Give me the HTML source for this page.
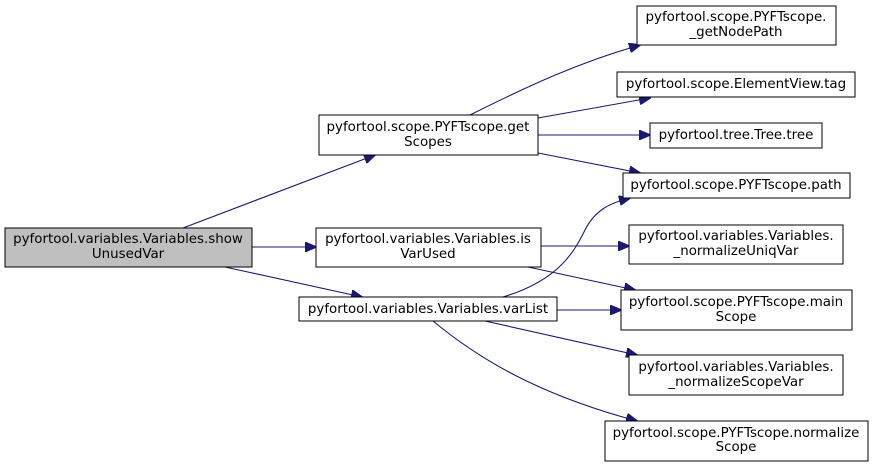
<!DOCTYPE html>
<html><head><meta charset="utf-8"><style>
html,body{margin:0;padding:0;background:#fff;}
svg{display:block;}
text{font-family:"DejaVu Sans","Liberation Sans",sans-serif;font-size:13.4px;fill:#000;text-anchor:middle;}
rect{fill:#fff;stroke:#000;stroke-width:1;}
path.e{fill:none;stroke:#191970;stroke-width:1.1;}
</style></head><body>
<svg width="873" height="467" viewBox="0 0 873 467" xmlns="http://www.w3.org/2000/svg">
<defs><marker id="a" markerWidth="12" markerHeight="10" refX="11" refY="5" orient="auto" markerUnits="userSpaceOnUse"><path d="M0,0 L12,5 L0,10 z" fill="#191970" stroke="#191970"/></marker></defs>
<path class="e" d="M183,228 L375,155" marker-end="url(#a)"/>
<path class="e" d="M252,247 L316,247" marker-end="url(#a)"/>
<path class="e" d="M225,267 L362,297" marker-end="url(#a)"/>
<path class="e" d="M470,115 C530,85 580,62 640,45" marker-end="url(#a)"/>
<path class="e" d="M538,118 L650,98" marker-end="url(#a)"/>
<path class="e" d="M538,135 L650,135" marker-end="url(#a)"/>
<path class="e" d="M538,153 L640,173" marker-end="url(#a)"/>
<path class="e" d="M541,246 L629,246" marker-end="url(#a)"/>
<path class="e" d="M528,267 L635,290" marker-end="url(#a)"/>
<path class="e" d="M503,297 C560,280 575,250 585,230 C595,210 610,203 630,198" marker-end="url(#a)"/>
<path class="e" d="M557,310 L621,310" marker-end="url(#a)"/>
<path class="e" d="M485,321 L637,355" marker-end="url(#a)"/>
<path class="e" d="M433,321 C480,360 540,395 637,421" marker-end="url(#a)"/>

<rect x="5" y="228" width="247" height="39" style="fill:#bfbfbf"/>
<text x="128" y="243">pyfortool.variables.Variables.show</text><text x="128" y="258">UnusedVar</text>

<rect x="319" y="115" width="219" height="40"/>
<text x="428" y="131">pyfortool.scope.PYFTscope.get</text><text x="428" y="146">Scopes</text>

<rect x="316" y="228" width="225" height="39"/>
<text x="428" y="243">pyfortool.variables.Variables.is</text><text x="428" y="258">VarUsed</text>

<rect x="299" y="297" width="258" height="24"/>
<text x="428" y="313">pyfortool.variables.Variables.varList</text>

<rect x="637" y="6" width="199" height="39"/>
<text x="736" y="21">pyfortool.scope.PYFTscope.</text><text x="736" y="36">_getNodePath</text>

<rect x="617" y="72" width="238" height="25"/>
<text x="736" y="88">pyfortool.scope.ElementView.tag</text>

<rect x="650" y="123" width="172" height="25"/>
<text x="736" y="139">pyfortool.tree.Tree.tree</text>

<rect x="623" y="173" width="227" height="25"/>
<text x="736" y="189">pyfortool.scope.PYFTscope.path</text>

<rect x="629" y="225" width="214" height="39"/>
<text x="736" y="240">pyfortool.variables.Variables.</text><text x="736" y="255">_normalizeUniqVar</text>

<rect x="621" y="290" width="231" height="40"/>
<text x="736" y="306">pyfortool.scope.PYFTscope.main</text><text x="736" y="321">Scope</text>

<rect x="629" y="355" width="214" height="40"/>
<text x="736" y="371">pyfortool.variables.Variables.</text><text x="736" y="386">_normalizeScopeVar</text>

<rect x="605" y="421" width="263" height="40"/>
<text x="736" y="437">pyfortool.scope.PYFTscope.normalize</text><text x="736" y="451">Scope</text>
</svg>
</body></html>
